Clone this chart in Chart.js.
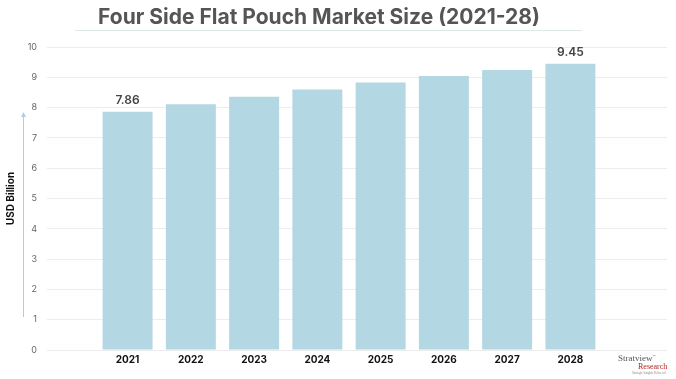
<!DOCTYPE html>
<html>
<head>
<meta charset="utf-8">
<script src="https://cdn.jsdelivr.net/npm/chart.js@4/dist/chart.umd.min.js"></script>
<style>
  html, body { margin: 0; padding: 0; background: #fff; }
  #wrap { position: relative; width: 676px; height: 379px; overflow: hidden; }
  #title { position: absolute; left: 0; width: 638px; top: 4px; text-align: center;
           font-family: Inter, "Open Sans", sans-serif; font-weight: 700; font-size: 21px;
           color: #555; letter-spacing: 0px; }
  #rule { position: absolute; left: 75px; width: 507px; top: 30px; height: 1px; background: #dfe8e8; }
  #logo { position: absolute; left: 618px; top: 352px; width: 56px; font-family: "Liberation Serif", serif; }
  #logo .a { font-size: 9px; color: #555; line-height: 9px; }
  #logo .b { font-size: 8px; color: #b3261e; line-height: 8px; padding-left: 20px; }
  #logo .c { font-size: 3px; color: #888; line-height: 4px; padding-left: 14px; }
  canvas { position: absolute; left: 0; top: 0; }
</style>
</head>
<body>
<div id="wrap">
  <canvas id="c" width="676" height="379"></canvas>
  <div id="title">Four Side Flat Pouch Market Size (2021-28)</div>
  <div id="rule"></div>
  <div id="logo"><div class="a">Stratview<sup style="font-size:3px">™</sup></div><div class="b">Research</div><div class="c">Strategic Insights Delivered</div></div>
</div>
<script>
const years = [2021, 2022, 2023, 2024, 2025, 2026, 2027, 2028];
const marketSize = [7.86, 8.11, 8.36, 8.60, 8.83, 9.04, 9.24, 9.45];
const labeledYears = [2021, 2028];
const yTicks = [0, 1, 2, 3, 4, 5, 6, 7, 8, 9, 10];
const yTitle = 'USD Billion';

const points = years.map((y, i) => ({ x: y, y: marketSize[i] }));

const arrowPlugin = {
  id: 'yArrow',
  afterDraw(chart) {
    const ctx = chart.ctx;
    ctx.save();
    ctx.strokeStyle = '#a9d3dc';
    ctx.fillStyle = '#a9d3dc';
    ctx.lineWidth = 1;
    ctx.beginPath();
    ctx.moveTo(23.5, 317);
    ctx.lineTo(23.5, 116);
    ctx.stroke();
    ctx.beginPath();
    ctx.moveTo(23.5, 112);
    ctx.lineTo(21, 117);
    ctx.lineTo(26, 117);
    ctx.closePath();
    ctx.fill();
    ctx.restore();
  }
};

const valueLabels = {
  id: 'valueLabels',
  afterDatasetsDraw(chart) {
    const ctx = chart.ctx;
    const meta = chart.getDatasetMeta(0);
    ctx.save();
    ctx.font = '600 12px Inter, "Open Sans", sans-serif';
    ctx.fillStyle = '#444';
    ctx.textAlign = 'center';
    ctx.textBaseline = 'middle';
    meta.data.forEach((bar, i) => {
      if (labeledYears.includes(years[i])) {
        ctx.fillText(marketSize[i].toFixed(2), bar.x, bar.y - 11);
      }
    });
    ctx.restore();
  }
};

new Chart(document.getElementById('c'), {
  type: 'bar',
  data: {
    datasets: [{
      data: points,
      backgroundColor: '#b4d7e4',
      borderWidth: 0,
      barPercentage: 0.79,
      categoryPercentage: 1.0
    }]
  },
  options: {
    responsive: false,
    animation: false,
    layout: { padding: { top: 47, right: 9, left: 0, bottom: 0 } },
    plugins: { legend: { display: false }, tooltip: { enabled: false }, title: { display: false } },
    scales: {
      x: {
        type: 'linear',
        min: 2019.726,
        max: 2029.527,
        offset: false,
        grid: { display: false, drawTicks: false },
        border: { display: false },
        afterBuildTicks(scale) { scale.ticks = years.map(v => ({ value: v })); },
        afterFit(scale) { scale.height = 29; },
        ticks: {
          padding: 4,
          maxRotation: 0,
          autoSkip: false,
          color: '#111',
          font: { family: 'Inter, "Open Sans", sans-serif', size: 10, weight: '700' },
          callback: v => String(v)
        }
      },
      y: {
        min: 0,
        max: 10,
        afterBuildTicks(scale) { scale.ticks = yTicks.map(v => ({ value: v })); },
        afterFit(scale) { scale.width = 47; },
        grid: { color: '#ececec', drawTicks: false, lineWidth: 1 },
        border: { display: false },
        ticks: {
          padding: 10,
          color: '#666',
          font: { family: 'Inter, "Open Sans", sans-serif', size: 9 }
        },
        title: {
          display: true,
          text: yTitle,
          color: '#111',
          padding: { top: 5, bottom: 0 },
          font: { family: 'Inter, "Open Sans", sans-serif', size: 10, weight: '700' }
        }
      }
    }
  },
  plugins: [arrowPlugin, valueLabels]
});
</script>
</body>
</html>
